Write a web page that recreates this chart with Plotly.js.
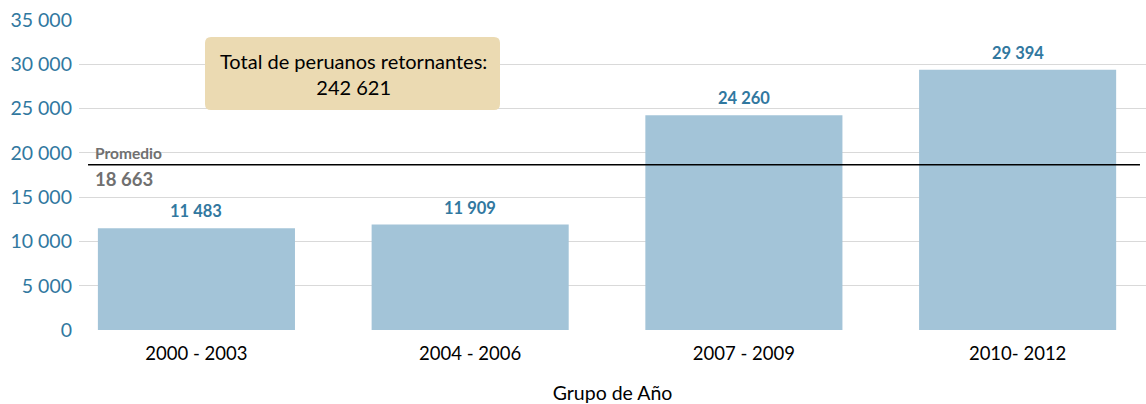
<!DOCTYPE html>
<html>
<head>
<meta charset="utf-8">
<script src="https://cdn.plot.ly/plotly-3.0.1.min.js"></script>
<style>html,body{margin:0;padding:0;background:#fff;}#chart{width:1146px;height:404px;}</style>
</head>
<body>
<div id="chart"></div>
<script>
var categories = ["2000 - 2003", "2004 - 2006", "2007 - 2009", "2010- 2012"];
var values = [11483, 11909, 24260, 29394];
var promedio = 18663;
var totalLabel = "Total de peruanos retornantes:";
var totalValue = "242 621";
var yTicks = [0, 5000, 10000, 15000, 20000, 25000, 30000, 35000];

var FONT = "Lato, 'Open Sans', sans-serif";
var BLUE = "#31789F";

var trace = {
  type: "bar",
  x: categories,
  y: values,
  marker: {color: "#A3C4D8"},
  hoverinfo: "x+y"
};

function fmt(v) { return v.toLocaleString("en-US").replace(/,/g, " "); }

var annotations = categories.map(function (c, i) {
  return {
    x: c, y: values[i], xref: "x", yref: "y",
    text: "<b>" + fmt(values[i]) + "</b>",
    showarrow: false, yanchor: "bottom", yshift: 5,
    font: {family: FONT, size: 16.5, color: BLUE}
  };
});

annotations.push({
  x: -0.378, y: promedio, xref: "x", yref: "y", xanchor: "left", yanchor: "bottom",
  text: "<b>Promedio</b>", showarrow: false, yshift: 1,
  font: {family: FONT, size: 15.5, color: "#707070"}
});
annotations.push({
  x: -0.378, y: promedio, xref: "x", yref: "y", xanchor: "left", yanchor: "top",
  text: "<b>" + fmt(promedio) + "</b>", showarrow: false, yshift: -1,
  font: {family: FONT, size: 18.5, color: "#707070"}
});
annotations.push({
  x: (353 - 79) / 1067, y: (404 - 74 - 74) / 310, xref: "paper", yref: "paper",
  xanchor: "center", yanchor: "middle",
  text: totalLabel + "<br>" + totalValue, showarrow: false,
  font: {family: FONT, size: 20, color: "#000000"}
});

// rounded box in paper coordinates
function roundedBox(x0p, y0p, x1p, y1p, r) {
  var W = 1067, H = 310;
  function px(x) { return (x - 79) / W; }
  function py(y) { return (330 - y) / H; }
  return "M" + px(x0p + r) + "," + py(y0p) +
    " L" + px(x1p - r) + "," + py(y0p) +
    " Q" + px(x1p) + "," + py(y0p) + " " + px(x1p) + "," + py(y0p + r) +
    " L" + px(x1p) + "," + py(y1p - r) +
    " Q" + px(x1p) + "," + py(y1p) + " " + px(x1p - r) + "," + py(y1p) +
    " L" + px(x0p + r) + "," + py(y1p) +
    " Q" + px(x0p) + "," + py(y1p) + " " + px(x0p) + "," + py(y1p - r) +
    " L" + px(x0p) + "," + py(y0p + r) +
    " Q" + px(x0p) + "," + py(y0p) + " " + px(x0p + r) + "," + py(y0p) + " Z";
}

var layout = {
  width: 1146, height: 404,
  margin: {l: 79, r: 0, t: 20, b: 74},
  paper_bgcolor: "#ffffff", plot_bgcolor: "#ffffff",
  separators: ", ",
  showlegend: false,
  bargap: 0.28,
  font: {family: FONT},
  xaxis: {
    type: "category",
    range: [-0.429, 3.469],
    showgrid: false, zeroline: false, showline: false, ticks: "",
    tickfont: {family: FONT, size: 18.5, color: "#000000"},
    ticklabelstandoff: 10,
    title: {text: "Grupo de Año", font: {family: FONT, size: 19.5, color: "#000000"}, standoff: 28}
  },
  yaxis: {
    range: [0, 35000],
    tickvals: yTicks,
    tickformat: ",d",
    showgrid: true, gridcolor: "#D9D9D9", gridwidth: 1,
    zeroline: false, showline: false, ticks: "",
    tickfont: {family: FONT, size: 19.5, color: BLUE},
    ticklabelstandoff: 6
  },
  shapes: [
    {type: "line", xref: "x", yref: "y", x0: -0.396, x1: 3.447, y0: promedio, y1: promedio,
     line: {color: "#000000", width: 1.5}, layer: "above"},
    {type: "path", xref: "paper", yref: "paper", path: roundedBox(205, 37, 500, 110, 6),
     fillcolor: "#EBDAB2", line: {width: 0}, layer: "above"}
  ],
  annotations: annotations
};

Plotly.newPlot("chart", [trace], layout, {displayModeBar: false, staticPlot: true});
</script>
</body>
</html>
